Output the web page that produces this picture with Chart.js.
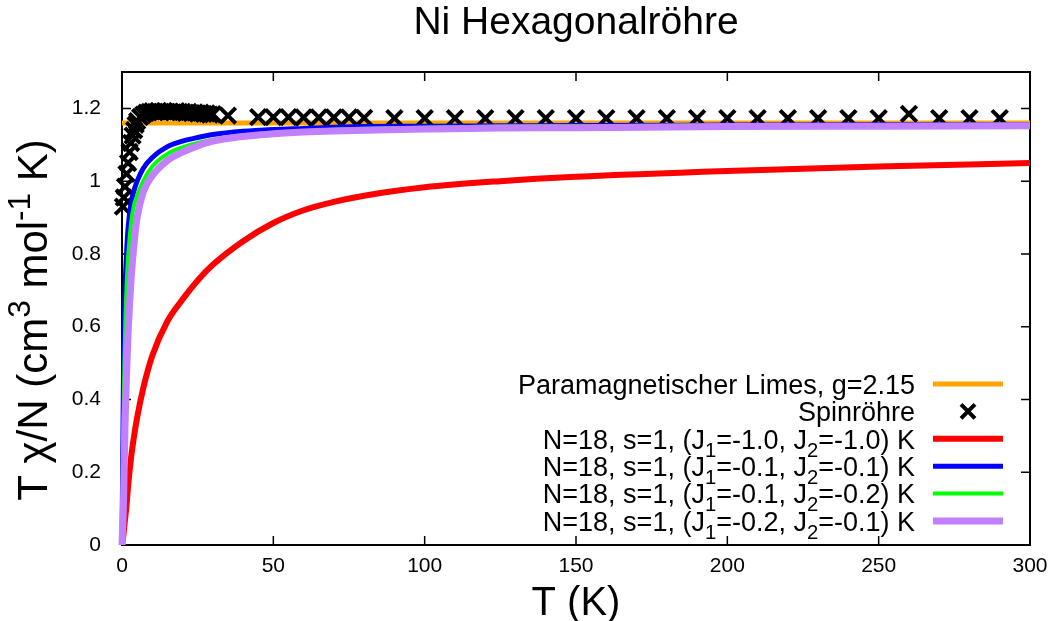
<!DOCTYPE html>
<html>
<head>
<meta charset="utf-8">
<script src="https://cdn.jsdelivr.net/npm/chart.js@4/dist/chart.umd.min.js"></script>
<style>
  html, body { margin: 0; padding: 0; background: #fff; }
  canvas { display: block; }
</style>
</head>
<body>
<canvas id="chiChart" width="1057" height="621"></canvas>
<script>
// Ni Hexagonalröhre - T chi / N gegen T

const FONT = '"Liberation Sans", Arial, Helvetica, sans-serif';

const titleText = 'Ni Hexagonalröhre';
const xTitle = 'T (K)';
const yTitle = 'T χ/N (cm^3 mol^{-1} K)';

const xTicks = [0, 50, 100, 150, 200, 250, 300];
const yTicks = [0, 0.2, 0.4, 0.6, 0.8, 1.0, 1.2];
const yTickLabels = ['0', '0.2', '0.4', '0.6', '0.8', '1', '1.2'];

// Paramagnetischer Limes
const paraT = [0, 300];
const paraVal = [1.16, 1.16];

// Messpunkte Spinröhre
const spinT = [0.3, 0.6, 1, 1.5, 2, 2.5, 3, 3.5, 4, 4.5, 5, 6, 7, 8, 9, 10, 11, 12, 13, 14, 15,
  16, 17, 18, 19, 20, 21, 22, 23, 24, 25, 26, 27, 28, 29, 30, 35, 45, 50, 55, 60, 65, 70, 75, 80,
  90, 100, 110, 120, 130, 140, 150, 160, 170, 180, 190, 200, 210, 220, 230, 240, 250, 260, 270, 280, 290];
const spinVal = [0.93, 0.955, 0.985, 1.02, 1.05, 1.08, 1.105, 1.125, 1.14, 1.155, 1.165, 1.176, 1.183, 1.188, 1.19, 1.192, 1.19, 1.193, 1.19, 1.192, 1.19,
  1.191, 1.189, 1.192, 1.19, 1.19, 1.188, 1.19, 1.187, 1.189, 1.186, 1.188, 1.185, 1.186, 1.183, 1.184, 1.18, 1.176, 1.176, 1.176, 1.175, 1.175, 1.175, 1.175, 1.174,
  1.173, 1.173, 1.173, 1.173, 1.173, 1.173, 1.173, 1.173, 1.173, 1.173, 1.173, 1.173, 1.173, 1.173, 1.173, 1.173, 1.173, 1.185, 1.173, 1.173, 1.173];

// Modellkurven (gemeinsames T-Raster)
const curveT = [0, 0.5, 1, 1.5, 2, 3, 4, 5, 7, 10, 15, 20, 25, 30, 40, 50, 60, 70, 80, 100, 125, 150, 200, 250, 300];
const redVal = [0, 0.03, 0.07, 0.11, 0.16, 0.24, 0.3, 0.35, 0.43, 0.52, 0.615, 0.675, 0.727, 0.77, 0.835, 0.885, 0.92, 0.943, 0.96, 0.983, 1.0, 1.012, 1.028, 1.04, 1.05];
const blueVal = [0, 0.48, 0.7, 0.8, 0.87, 0.94, 0.975, 1.0, 1.035, 1.065, 1.095, 1.11, 1.12, 1.128, 1.137, 1.142, 1.145, 1.148, 1.15, 1.151, 1.152, 1.153, 1.154, 1.155, 1.155];
const greenVal = [0, 0.36, 0.58, 0.71, 0.79, 0.885, 0.935, 0.96, 1.0, 1.04, 1.075, 1.093, 1.105, 1.113, 1.125, 1.132, 1.137, 1.141, 1.144, 1.147, 1.15, 1.151, 1.153, 1.154, 1.155];
const purpleVal = [0, 0.12, 0.33, 0.47, 0.58, 0.73, 0.83, 0.9, 0.97, 1.015, 1.057, 1.08, 1.097, 1.11, 1.123, 1.13, 1.135, 1.138, 1.14, 1.143, 1.146, 1.147, 1.15, 1.151, 1.152];

const seriesLabels = [
  'Paramagnetischer Limes, g=2.15',
  'Spinröhre',
  'N=18, s=1, (J_1=-1.0, J_2=-1.0) K',
  'N=18, s=1, (J_1=-0.1, J_2=-0.1) K',
  'N=18, s=1, (J_1=-0.1, J_2=-0.2) K',
  'N=18, s=1, (J_1=-0.2, J_2=-0.1) K'
];
const seriesColors = ['#ffa500', '#000000', '#ff0000', '#0000ff', '#00ff00', '#c080ff'];
const lineWidths = [5, 4, 6, 5, 4, 7];

const xy = (xs, ys) => xs.map((x, i) => ({ x: x, y: ys[i] }));

// kleiner Parser fuer Hoch-/Tiefstellung: _x  ^x  ^{..}
function richSegments(str) {
  const out = [];
  const re = /([_^])(\{[^}]*\}|.)/g;
  let last = 0, m;
  while ((m = re.exec(str))) {
    if (m.index > last) out.push({ t: str.slice(last, m.index), k: 0 });
    let t = m[2];
    if (t[0] === '{') t = t.slice(1, -1);
    out.push({ t: t, k: m[1] === '_' ? -1 : 1 });
    last = re.lastIndex;
  }
  if (last < str.length) out.push({ t: str.slice(last), k: 0 });
  return out;
}

function drawRich(ctx, str, x, y, size, align) {
  const segs = richSegments(str);
  const widths = segs.map(s => {
    ctx.font = (s.k ? size * 0.75 : size) + 'px ' + FONT;
    return ctx.measureText(s.t).width;
  });
  const total = widths.reduce((a, b) => a + b, 0);
  let cx = align === 'right' ? x - total : align === 'center' ? x - total / 2 : x;
  ctx.textAlign = 'left';
  ctx.textBaseline = 'alphabetic';
  segs.forEach((s, i) => {
    ctx.font = (s.k ? size * 0.75 : size) + 'px ' + FONT;
    const dy = s.k === -1 ? size * 0.3 : s.k === 1 ? -size * 0.4 : 0;
    ctx.fillText(s.t, cx, y + dy);
    cx += widths[i];
  });
}

const gnuFrame = {
  id: 'gnuFrame',
  beforeDatasetsDraw(chart) {
    const { ctx, chartArea: a, scales } = chart;
    ctx.save();
    ctx.strokeStyle = '#000';
    ctx.lineWidth = 2;
    ctx.strokeRect(a.left, a.top, a.right - a.left, a.bottom - a.top);
    ctx.lineWidth = 1.5;
    ctx.beginPath();
    const tl = 9;
    xTicks.forEach(v => {
      const px = scales.x.getPixelForValue(v);
      ctx.moveTo(px, a.bottom); ctx.lineTo(px, a.bottom - tl);
      ctx.moveTo(px, a.top); ctx.lineTo(px, a.top + tl);
    });
    yTicks.forEach(v => {
      const py = scales.y.getPixelForValue(v);
      ctx.moveTo(a.left, py); ctx.lineTo(a.left + tl, py);
      ctx.moveTo(a.right, py); ctx.lineTo(a.right - tl, py);
    });
    ctx.stroke();
    ctx.restore();
  },
  afterDraw(chart) {
    const { ctx, chartArea: a } = chart;
    const midX = (a.left + a.right) / 2;

    ctx.save();
    ctx.fillStyle = '#000';
    ctx.textAlign = 'center';
    ctx.textBaseline = 'middle';
    ctx.font = '39px ' + FONT;
    ctx.fillText(titleText, midX, 23);
    ctx.font = '40px ' + FONT;
    ctx.fillText(xTitle, midX, 604);

    // y-Achsentitel mit Hochstellung
    ctx.translate(47, 320);
    ctx.rotate(-Math.PI / 2);
    drawRich(ctx, yTitle, 0, 0, 42, 'center');
    ctx.restore();

    // Legende im gnuplot-Stil
    ctx.save();
    const size = 27;
    seriesLabels.forEach((lab, i) => {
      const cy = 384 + i * 27.4;
      ctx.fillStyle = '#000';
      drawRich(ctx, lab, 915, cy + size * 0.36, size, 'right');
      ctx.strokeStyle = seriesColors[i];
      ctx.lineWidth = lineWidths[i];
      ctx.beginPath();
      if (i === 1) {
        const r = 7;
        ctx.moveTo(968 - r, cy - r); ctx.lineTo(968 + r, cy + r);
        ctx.moveTo(968 - r, cy + r); ctx.lineTo(968 + r, cy - r);
      } else {
        ctx.moveTo(933, cy); ctx.lineTo(1003, cy);
      }
      ctx.stroke();
    });
    ctx.restore();
  }
};

function lineSet(label, data, idx, order) {
  return {
    label: label,
    data: data,
    borderColor: seriesColors[idx],
    backgroundColor: seriesColors[idx],
    borderWidth: lineWidths[idx],
    pointRadius: 0,
    cubicInterpolationMode: 'monotone',
    clip: false,
    order: order
  };
}

new Chart(document.getElementById('chiChart'), {
  type: 'line',
  data: {
    datasets: [
      lineSet(seriesLabels[0], xy(paraT, paraVal), 0, 6),
      {
        label: seriesLabels[1],
        data: xy(spinT, spinVal),
        showLine: false,
        pointStyle: 'crossRot',
        pointRadius: 11,
        pointBorderWidth: 4,
        borderColor: '#000',
        backgroundColor: '#000',
        clip: false,
        order: 5
      },
      lineSet(seriesLabels[2], xy(curveT, redVal), 2, 4),
      lineSet(seriesLabels[3], xy(curveT, blueVal), 3, 3),
      lineSet(seriesLabels[4], xy(curveT, greenVal), 4, 2),
      lineSet(seriesLabels[5], xy(curveT, purpleVal), 5, 1)
    ]
  },
  options: {
    responsive: false,
    animation: false,
    devicePixelRatio: 1,
    layout: { padding: { left: 0, right: 27, top: 72, bottom: 0 } },
    plugins: {
      legend: { display: false },
      tooltip: { enabled: false },
      title: { display: false }
    },
    scales: {
      x: {
        type: 'linear',
        min: 0,
        max: 300,
        grid: { display: false },
        border: { display: false },
        afterBuildTicks: s => { s.ticks = xTicks.map(v => ({ value: v })); },
        afterFit: s => { s.height = 76; },
        ticks: {
          color: '#000',
          padding: 1,
          maxRotation: 0,
          font: { family: FONT, size: 21 },
          callback: v => String(v)
        }
      },
      y: {
        type: 'linear',
        min: 0,
        max: 1.3,
        grid: { display: false },
        border: { display: false },
        afterBuildTicks: s => { s.ticks = yTicks.map(v => ({ value: v })); },
        afterFit: s => { s.width = 122; },
        ticks: {
          color: '#000',
          padding: 13,
          font: { family: FONT, size: 21 },
          callback: (v, i) => yTickLabels[i]
        }
      }
    }
  },
  plugins: [gnuFrame]
});
</script>
</body>
</html>
